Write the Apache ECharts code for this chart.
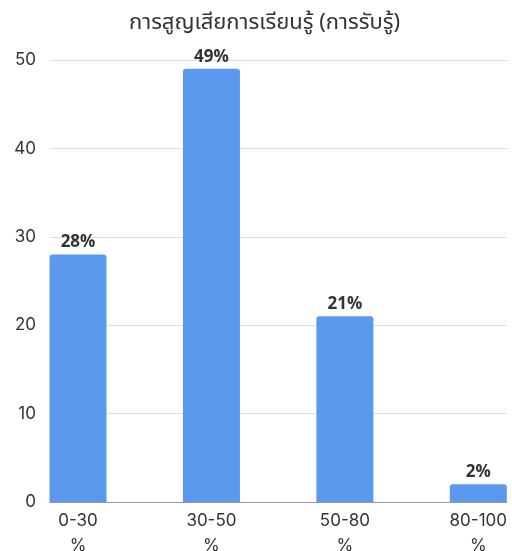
<!DOCTYPE html>
<html>
<head>
<meta charset="utf-8">
<script src="https://cdn.jsdelivr.net/npm/echarts@6/dist/echarts.min.js"></script>
<style>
  html, body { margin: 0; padding: 0; background: #fff; }
  #box { width: 512px; height: 551px; }
</style>
</head>
<body>
<div id="box"></div>
<script>
// ข้อมูล
let categories = ["0-30\n%", "30-50\n%", "50-80\n%", "80-100\n%"];
let values = [28, 49, 21, 2];
let yTicks = [0, 10, 20, 30, 40, 50];

let chart = echarts.init(document.getElementById("box"), null, { renderer: "canvas" });

let fontFamily = "'Noto Sans Thai', 'Noto Sans', Roboto, sans-serif";
let axisFont = "Inter, 'Noto Sans', sans-serif";

let option = {
  animation: false,
  title: {
    text: "การสูญเสียการเรียนรู้ (การรับรู้)",
    left: 124,
    top: 9,
    textStyle: { fontSize: 22, fontWeight: "normal", color: "#333", fontFamily: fontFamily }
  },
  grid: { left: 50, right: 5, top: 60, bottom: 49, outerBoundsMode: "none", containLabel: false },
  xAxis: {
    type: "value",
    min: -0.21,
    max: 3.215,
    splitLine: { show: false },
    axisLine: { show: true, onZero: false, lineStyle: { color: "#999" } },
    axisTick: { show: false },
    axisLabel: {
      customValues: [0, 1, 2, 3],
      formatter: v => categories[Math.round(v)] || "",
      fontSize: 17,
      color: "#333",
      lineHeight: 25,
      margin: 6,
      fontFamily: axisFont
    }
  },
  yAxis: {
    type: "value",
    min: yTicks[0],
    max: yTicks[yTicks.length - 1],
    interval: 10,
    axisLine: { show: false },
    axisTick: { show: false },
    splitLine: { lineStyle: { color: "#ddd" } },
    axisLabel: { fontSize: 17, color: "#333", margin: 14, fontFamily: axisFont }
  },
  series: [
    {
      type: "bar",
      data: values.map((v, i) => [i, v]),
      barWidth: 57,
      itemStyle: { color: "#5b99ef", borderRadius: [3, 3, 0, 0] },
      label: {
        show: true,
        position: "top",
        distance: 2,
        formatter: p => p.value[1] + "%",
        fontSize: 17,
        fontWeight: "bold",
        color: "#333",
        fontFamily: fontFamily
      }
    }
  ]
};

chart.setOption(option);
</script>
</body>
</html>
